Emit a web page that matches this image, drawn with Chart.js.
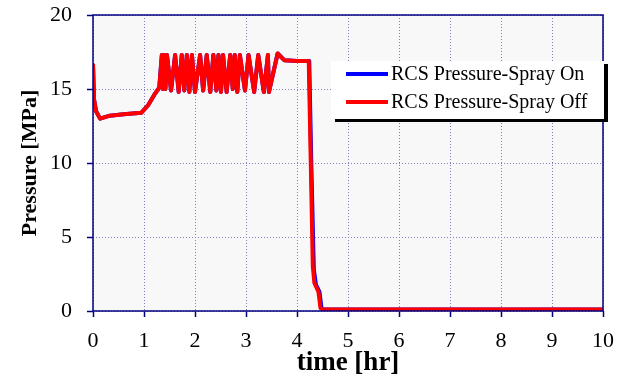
<!DOCTYPE html>
<html>
<head>
<meta charset="utf-8">
<script src="https://cdn.jsdelivr.net/npm/chart.js@4/dist/chart.umd.min.js"></script>
<style>
  html, body { margin: 0; padding: 0; background: #ffffff; }
  #wrap { width: 625px; height: 379px; position: relative; }
</style>
</head>
<body>
<div id="wrap"><canvas id="chart"></canvas></div>
<script>
// values: time [hr] vs pressure [MPa]
const seriesLabels = ["RCS Pressure-Spray On", "RCS Pressure-Spray Off"];

const timeOff = [0, 0.02, 0.06, 0.14, 0.33, 0.6, 0.95, 1.08, 1.2, 1.3,
  1.35, 1.37, 1.39, 1.42, 1.45, 1.53, 1.61, 1.68, 1.74, 1.79, 1.84, 1.89, 1.94,
  2.0, 2.1, 2.16, 2.23, 2.3, 2.36, 2.42, 2.46, 2.51, 2.55, 2.62, 2.69, 2.74,
  2.78, 2.83, 2.88, 2.98, 3.05, 3.16, 3.24, 3.35, 3.43, 3.45, 3.62, 3.75, 4.0, 4.23,
  4.27, 4.31, 4.34, 4.42, 4.46, 4.5, 10];
const pressureOff = [16.7, 14.3, 13.5, 13.0, 13.2, 13.3, 13.4, 13.9, 14.6, 15.1,
  17.3, 15.0, 17.3, 15.0, 17.3, 14.9, 17.3, 14.8, 17.3, 14.9, 17.3, 14.8, 17.3,
  14.8, 17.3, 14.9, 17.3, 14.8, 17.3, 14.9, 17.3, 14.8, 17.3, 14.8, 17.3, 15.0,
  17.3, 14.8, 17.3, 14.9, 17.3, 14.8, 17.3, 14.8, 17.3, 14.8, 17.4, 16.95, 16.9, 16.9,
  10.0, 3.0, 1.9, 1.3, 0.2, 0.1, 0.1];

const timeOn = [0, 0.02, 0.06, 0.14, 0.33, 0.6, 0.95, 1.08, 1.2, 1.3,
  1.35, 1.37, 1.39, 1.42, 1.45, 1.53, 1.61, 1.68, 1.74, 1.79, 1.84, 1.89, 1.94,
  2.0, 2.1, 2.16, 2.23, 2.3, 2.36, 2.42, 2.46, 2.51, 2.55, 2.62, 2.69, 2.74,
  2.78, 2.83, 2.88, 2.98, 3.05, 3.16, 3.24, 3.35, 3.43, 3.45, 3.62, 3.75, 4.0, 4.24,
  4.28, 4.33, 4.37, 4.44, 4.48, 4.52, 10];
const pressureOn = [16.7, 14.3, 13.5, 13.0, 13.2, 13.3, 13.4, 13.9, 14.6, 15.1,
  17.3, 15.0, 17.3, 15.0, 17.3, 14.9, 17.3, 14.8, 17.3, 14.9, 17.3, 14.8, 17.3,
  14.8, 17.3, 14.9, 17.3, 14.8, 17.3, 14.9, 17.3, 14.8, 17.3, 14.8, 17.3, 15.0,
  17.3, 14.8, 17.3, 14.9, 17.3, 14.8, 17.3, 14.8, 17.3, 14.8, 17.4, 16.95, 16.9, 16.9,
  10.0, 2.8, 1.8, 1.3, 0.2, 0.1, 0.1];

const xTicks = [0, 1, 2, 3, 4, 5, 6, 7, 8, 9, 10];
const yTicks = [0, 5, 10, 15, 20];

const serif = "'Liberation Serif', 'Times New Roman', serif";
const gridColor = "#7f7fbf";
const frameColor = "#000080";

const toPoints = (xs, ys) => xs.map((x, i) => ({ x: x, y: ys[i] }));

// gray plot area + dark frame
const plotFrame = {
  id: "plotFrame",
  beforeDraw(chart) {
    const { ctx, chartArea: a } = chart;
    ctx.save();
    ctx.fillStyle = "#f8f8f8";
    ctx.fillRect(a.left, a.top, a.right - a.left, a.bottom - a.top);
    ctx.restore();
  },
  afterDatasetsDraw(chart) {
    const { ctx, chartArea: a } = chart;
    ctx.save();
    ctx.strokeStyle = frameColor;
    ctx.lineWidth = 1.5;
    ctx.strokeRect(a.left, a.top, a.right - a.left, a.bottom - a.top);
    ctx.restore();
  },
};

// legend box with a black drop shadow, like the original
const shadowLegend = {
  id: "shadowLegend",
  afterDraw(chart) {
    const { ctx, chartArea: a } = chart;
    const x = a.left + 238, y = a.top + 46, w = 273, h = 58;
    ctx.save();
    ctx.fillStyle = "#000000";
    ctx.fillRect(x + 4, y + 3, w, h);
    ctx.fillStyle = "#ffffff";
    ctx.fillRect(x, y, w, h);
    ctx.font = "20px " + serif;
    ctx.textBaseline = "middle";
    chart.data.datasets.forEach((ds, i) => {
      const ly = y + 13 + i * 28;
      ctx.strokeStyle = ds.borderColor;
      ctx.lineWidth = 4;
      ctx.beginPath();
      ctx.moveTo(x + 15, ly);
      ctx.lineTo(x + 57, ly);
      ctx.stroke();
      ctx.fillStyle = "#000000";
      ctx.fillText(ds.label, x + 60, ly + 1);
    });
    ctx.restore();
  },
};

new Chart(document.getElementById("chart"), {
  type: "line",
  data: {
    datasets: [
      {
        label: seriesLabels[0],
        data: toPoints(timeOn, pressureOn),
        borderColor: "#0000ff",
        borderWidth: 4,
        borderJoinStyle: "round",
        pointRadius: 0,
        tension: 0,
        order: 1,
      },
      {
        label: seriesLabels[1],
        data: toPoints(timeOff, pressureOff),
        borderColor: "#ff0000",
        borderWidth: 4,
        borderJoinStyle: "round",
        pointRadius: 0,
        tension: 0,
        order: 0,
      },
    ],
  },
  options: {
    responsive: true,
    maintainAspectRatio: false,
    animation: false,
    layout: { padding: { left: 17, right: 22, top: 15, bottom: 0 } },
    plugins: {
      legend: { display: false },
      tooltip: { enabled: false },
    },
    scales: {
      x: {
        type: "linear",
        min: 0,
        max: 10,
        afterBuildTicks: (axis) => {
          axis.ticks = xTicks.map((v) => ({ value: v }));
        },
        afterFit: (axis) => {
          axis.height = 68;
          axis.paddingLeft = 0;
          axis.paddingRight = 0;
        },
        grid: {
          color: gridColor,
          lineWidth: 1,
          tickLength: 6,
          tickColor: frameColor,
          tickWidth: 1.5,
          drawTicks: true,
        },
        border: { display: false, dash: [1, 2] },
        ticks: {
          color: "#000000",
          padding: 11,
          maxRotation: 0,
          font: { family: serif, size: 22 },
        },
        title: {
          display: true,
          text: "time [hr]",
          color: "#000000",
          padding: { top: 0, bottom: 0 },
          font: { family: serif, size: 27, weight: "bold" },
        },
      },
      y: {
        min: 0,
        max: 20,
        afterBuildTicks: (axis) => {
          axis.ticks = yTicks.map((v) => ({ value: v }));
        },
        afterFit: (axis) => {
          axis.width = 76;
          axis.paddingTop = 0;
          axis.paddingBottom = 0;
        },
        grid: {
          color: gridColor,
          lineWidth: 1,
          tickLength: 6,
          tickColor: frameColor,
          tickWidth: 1.5,
        },
        border: { display: false, dash: [1, 2] },
        ticks: {
          color: "#000000",
          padding: 15,
          font: { family: serif, size: 22 },
        },
        title: {
          display: true,
          text: "Pressure [MPa]",
          color: "#000000",
          padding: { top: 0, bottom: 0 },
          font: { family: serif, size: 22, weight: "bold" },
        },
      },
    },
  },
  plugins: [plotFrame, shadowLegend],
});
</script>
</body>
</html>
